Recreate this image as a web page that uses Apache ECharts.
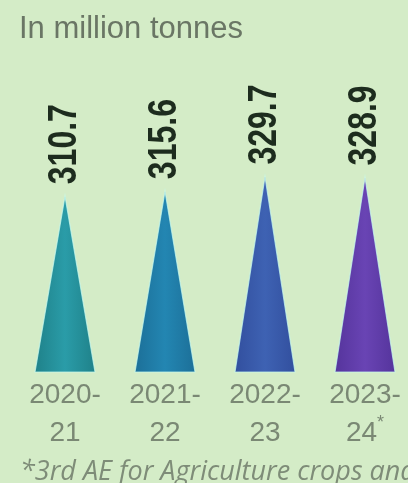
<!DOCTYPE html>
<html>
<head>
<meta charset="utf-8">
<script src="https://cdn.jsdelivr.net/npm/echarts@6/dist/echarts.min.js"></script>
<style>
html,body{margin:0;padding:0;background:#d4ecc7;overflow:hidden;}
#c{width:415px;height:483px;}
</style>
</head>
<body>
<div id="c"></div>
<script>
const categories = ['2020-21', '2021-22', '2022-23', '2023-24*'];
const values = [310.7, 315.6, 329.7, 328.9];
const barColors = [
  ['#1f8189', '#2a9ca8'],
  ['#1c6f98', '#2386b2'],
  ['#324f9e', '#3e62b3'],
  ['#55349c', '#6944b4']
];
const unitText = 'In million tonnes';
const footnoteText = '*3rd AE for Agriculture crops and';
const axisMin = 140;
const axisMax = 340;

const chart = echarts.init(document.getElementById('c'), null, {renderer: 'canvas'});

const seriesData = values.map((v, i) => [i, v]);

function renderItem(params, api) {
  const idx = api.value(0);
  const val = api.value(1);
  const top = api.coord([idx, val]);
  const base = api.coord([idx, axisMin]);
  const w = api.size([1, 0])[0] * 0.6;
  const cx = top[0];
  const c = barColors[idx];
  return {
    type: 'group',
    children: [
      {
        type: 'polygon',
        shape: {points: [[cx - w / 2, base[1]], [cx, top[1]], [cx + w / 2, base[1]]]},
        style: {
          fill: new echarts.graphic.LinearGradient(0, 0, 1, 0, [
            {offset: 0, color: c[0]},
            {offset: 0.5, color: c[1]},
            {offset: 1, color: c[0]}
          ]),
          stroke: 'rgba(200,250,238,0.75)',
          lineWidth: 1.2
        }
      },
      {
        type: 'text',
        x: cx,
        y: top[1] - 12,
        rotation: Math.PI / 2,
        scaleX: 0.8,
        style: {
          text: val.toFixed(1),
          x: 0, y: 0,
          align: 'left',
          verticalAlign: 'middle',
          font: 'bold 40px "Liberation Sans", Arial, sans-serif',
          fill: '#1d2c1e'
        }
      }
    ]
  };
}

chart.setOption({
  backgroundColor: '#d4ecc7',
  title: [
    {
      text: unitText,
      left: 19, top: 14, padding: 0,
      textStyle: {fontFamily: 'Liberation Sans, Arial, sans-serif', fontSize: 31, fontWeight: 'normal', color: '#6a7665'}
    },
    {
      text: footnoteText,
      left: 20, top: 459, padding: 0,
      textStyle: {fontFamily: 'Open Sans, Liberation Sans, Arial, sans-serif', fontSize: 27, fontStyle: 'italic', fontWeight: 'normal', color: '#7e8c78'}
    }
  ],
  grid: {left: 15, right: 0, top: 166, bottom: 111},
  xAxis: {
    type: 'category',
    data: categories,
    axisLine: {show: false},
    axisTick: {show: false},
    axisLabel: {
      margin: 4,
      interval: 0,
      fontFamily: 'Liberation Sans, Arial, sans-serif',
      fontSize: 28,
      lineHeight: 38,
      color: '#7a8874',
      formatter: function (v) {
        const parts = v.split('-');
        let second = parts[1];
        if (second.endsWith('*')) {
          return parts[0] + '-\n' + second.slice(0, -1) + '{s|*}';
        }
        return parts[0] + '-\n' + second;
      },
      rich: {
        s: {fontSize: 18, verticalAlign: 'top', color: '#7a8874', lineHeight: 38, padding: [0, 0, 6, 0]}
      }
    }
  },
  yAxis: {
    type: 'value',
    min: axisMin,
    max: axisMax,
    show: false,
    splitLine: {show: false}
  },
  series: [{
    type: 'custom',
    renderItem: renderItem,
    encode: {x: 0, y: 1},
    data: seriesData,
    clip: false
  }]
});
</script>
</body>
</html>
